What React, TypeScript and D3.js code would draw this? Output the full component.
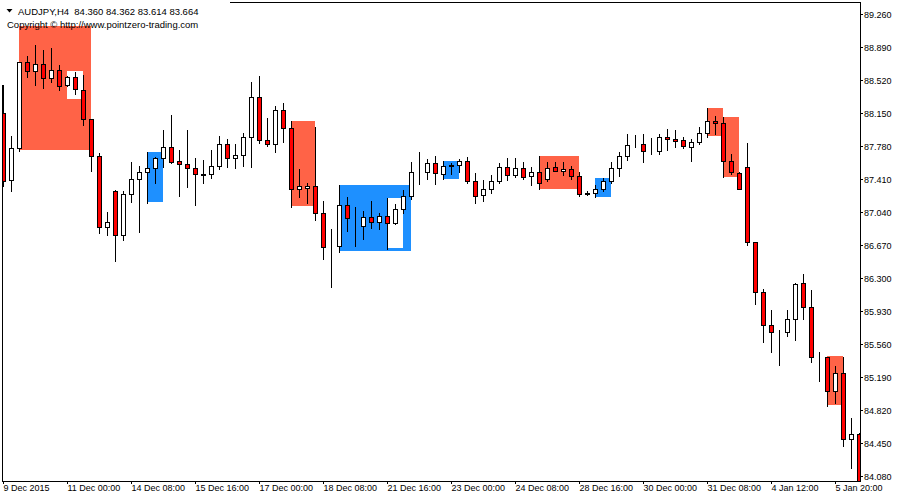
import React from "react";
import * as d3 from "d3";

const opens = [88.149,87.397,87.756,88.721,88.627,88.699,88.541,88.631,88.463,88.559,88.410,88.081,87.666,86.870,87.277,86.780,87.240,87.408,87.487,87.532,87.644,87.767,87.614,87.577,87.532,87.466,87.464,87.554,87.801,87.644,87.678,87.880,88.328,87.846,87.801,88.182,87.980,87.296,87.307,87.330,87.027,86.665,86.663,87.117,86.883,86.881,86.982,86.926,86.993,86.915,87.072,87.218,87.489,87.487,87.588,87.464,87.567,87.565,87.610,87.386,87.229,87.296,87.386,87.543,87.453,87.532,87.442,87.487,87.408,87.543,87.498,87.520,87.442,87.253,87.251,87.296,87.386,87.532,87.670,87.803,87.801,87.728,87.729,87.880,87.857,87.846,87.767,87.823,87.924,88.059,88.037,87.610,87.476,87.543,86.701,86.140,85.770,85.700,85.698,85.837,86.241,85.972,85.417,85.415,85.033,85.232,84.491,84.547];
const highs = [88.466,87.894,88.725,88.792,88.915,88.859,88.878,88.691,88.567,88.616,88.575,88.090,87.700,87.041,87.288,87.277,87.602,87.558,87.711,87.659,87.961,88.130,87.737,87.961,87.644,87.625,87.737,87.894,87.860,87.804,87.924,88.497,88.567,88.093,88.227,88.261,88.062,87.524,87.367,87.992,87.165,86.851,87.344,87.210,87.098,87.053,87.165,87.030,87.198,87.128,87.288,87.602,87.715,87.633,87.666,87.610,87.588,87.636,87.655,87.476,87.397,87.453,87.588,87.644,87.644,87.599,87.543,87.670,87.599,87.599,87.599,87.554,87.490,87.274,87.341,87.420,87.602,87.715,87.917,87.905,87.917,87.872,87.917,87.969,87.958,87.880,87.857,87.992,88.208,88.119,88.107,87.692,87.487,87.816,86.701,86.174,85.938,85.717,85.938,86.241,86.346,86.166,85.471,85.415,85.314,85.415,84.733,84.560];
const lows = [87.333,87.280,87.729,88.559,88.466,88.429,88.503,88.410,88.455,88.362,88.018,87.505,86.809,86.783,86.495,86.724,87.157,86.820,87.146,87.370,87.550,87.588,87.224,87.325,87.120,87.370,87.426,87.520,87.550,87.538,87.558,87.550,87.812,87.785,87.718,87.830,87.101,87.213,87.139,86.952,86.517,86.203,86.596,86.832,86.663,86.742,86.865,86.854,86.630,86.907,87.027,87.184,87.352,87.408,87.352,87.408,87.464,87.487,87.363,87.139,87.161,87.251,87.363,87.397,87.431,87.408,87.341,87.296,87.386,87.498,87.453,87.415,87.218,87.229,87.206,87.274,87.363,87.449,87.628,87.774,87.599,87.689,87.689,87.734,87.774,87.756,87.610,87.808,87.886,87.917,87.431,87.468,87.296,86.675,86.013,85.583,85.471,85.325,85.647,85.609,85.837,85.358,85.149,84.868,84.902,84.416,84.172,83.614];
const closes = [87.393,87.756,88.721,88.627,88.699,88.541,88.631,88.455,88.559,88.418,88.085,87.666,86.870,86.926,86.780,87.240,87.408,87.490,87.532,87.644,87.767,87.606,87.577,87.532,87.464,87.462,87.554,87.801,87.644,87.678,87.880,88.328,87.846,87.801,88.182,87.980,87.296,87.330,87.330,87.027,86.652,86.661,87.117,86.971,86.879,86.982,86.926,86.993,86.915,87.072,87.218,87.487,87.485,87.588,87.476,87.554,87.563,87.610,87.386,87.218,87.296,87.386,87.543,87.453,87.532,87.431,87.487,87.363,87.532,87.498,87.520,87.442,87.240,87.249,87.296,87.386,87.532,87.670,87.793,87.799,87.722,87.724,87.880,87.857,87.835,87.779,87.823,87.924,88.059,88.037,87.610,87.487,87.296,86.701,86.140,85.770,85.698,85.696,85.837,86.234,85.972,85.411,85.413,85.033,85.232,84.491,84.547,83.664];

// supply / demand zones (candle index range and price range)
const zoneStart = [2, 8, 18, 36, 42, 48, 55, 67, 74, 88, 90, 103];
const zoneEnd = [11, 10, 20, 39, 51, 50, 57, 72, 76, 90, 92, 105];
const zoneTop = [89.128, 88.623, 87.711, 88.062, 87.344, 87.198, 87.610, 87.670, 87.420, 88.208, 88.107, 85.422];
const zoneBottom = [87.740, 88.309, 87.157, 87.112, 86.607, 86.641, 87.415, 87.296, 87.213, 87.897, 87.437, 84.876];
const zoneKind = ["supply", "hole", "demand", "supply", "demand", "hole", "demand", "supply", "demand", "supply", "supply", "supply"];

const priceTicks = [89.26, 88.89, 88.52, 88.15, 87.78, 87.41, 87.04, 86.67, 86.3, 85.93, 85.56, 85.19, 84.82, 84.45, 84.08];
const dateTickIndex = [0, 8, 16, 24, 32, 40, 48, 56, 64, 72, 80, 88, 96, 104];
const dateLabels = ["9 Dec 2015", "11 Dec 00:00", "14 Dec 08:00", "15 Dec 16:00", "17 Dec 00:00", "18 Dec 08:00", "21 Dec 16:00", "23 Dec 00:00", "24 Dec 08:00", "28 Dec 16:00", "30 Dec 00:00", "31 Dec 08:00", "4 Jan 12:00", "5 Jan 20:00"];

const headerText = "AUDJPY,H4  84.360 84.362 83.614 83.664";
const copyrightText = "Copyright \u00A9 http://www.pointzero-trading.com";

const zoneColors: Record<string, string> = { supply: "#FF6347", demand: "#1E90FF", hole: "#FFFFFF" };

export default function App() {
  const W = 900, H = 500;
  const plotRight = 860, plotBottom = 481;
  const x = d3.scaleLinear().domain([0, opens.length - 1]).range([3, 3 + 8 * (opens.length - 1)]);
  const y = d3.scaleLinear().domain([84.0234, 89.42]).range([481, 0]);
  const py = (p: number) => Math.round(y(p));
  const font = "'Liberation Sans', Arial, sans-serif";

  return (
    <svg width={W} height={H} style={{ position: "absolute", left: 0, top: 0, background: "#fff" }} shapeRendering="crispEdges">
      <defs>
        <clipPath id="plot">
          <rect x={3} y={3} width={plotRight - 3} height={plotBottom - 3} />
        </clipPath>
      </defs>
      <rect x={0} y={0} width={W} height={H} fill="#fff" />
      <g clipPath="url(#plot)">
        {zoneStart.map((s, k) => {
          const x1 = x(s), x2 = x(zoneEnd[k]);
          const y1 = py(zoneTop[k]), y2 = py(zoneBottom[k]);
          return <rect key={"z" + k} x={x1} y={y1} width={x2 - x1} height={y2 - y1} fill={zoneColors[zoneKind[k]]} />;
        })}
        {opens.map((o, i) => {
          const c = closes[i];
          const cx = x(i);
          const top = py(Math.max(o, c));
          const bot = py(Math.min(o, c));
          const bull = c > o;
          return (
            <g key={"c" + i}>
              <line x1={cx + 0.5} x2={cx + 0.5} y1={py(highs[i])} y2={py(lows[i]) + 1} stroke="#000" strokeWidth={1} />
              <rect x={cx - 1.5} y={top + 0.5} width={4} height={bot - top} fill={bull ? "#fff" : "#ff0000"} stroke="#000" strokeWidth={1} />
            </g>
          );
        })}
      </g>
      {/* frame */}
      <line x1={2.5} x2={2.5} y1={85} y2={plotBottom + 1} stroke="#000" />
      <line x1={230} x2={plotRight + 1} y1={2.5} y2={2.5} stroke="#000" />
      <line x1={plotRight + 0.5} x2={plotRight + 0.5} y1={2} y2={plotBottom + 1} stroke="#000" />
      <line x1={2} x2={plotRight + 1} y1={plotBottom + 0.5} y2={plotBottom + 0.5} stroke="#000" />
      {/* price axis */}
      {priceTicks.map((p, k) => (
        <g key={"p" + k}>
          <line x1={plotRight} x2={plotRight + 3} y1={py(p) + 0.5} y2={py(p) + 0.5} stroke="#000" />
          <text x={864} y={py(p) + 3.5} fontFamily={font} fontSize={9} fill="#000">{p.toFixed(3)}</text>
        </g>
      ))}
      {/* time axis */}
      {dateTickIndex.map((idx, k) => (
        <g key={"d" + k}>
          <line x1={x(idx) + 0.5} x2={x(idx) + 0.5} y1={plotBottom} y2={plotBottom + 3} stroke="#000" />
          <text x={x(idx) + 0.5} y={491} fontFamily={font} fontSize={9} fill="#000">{dateLabels[k]}</text>
        </g>
      ))}
      {/* header */}
      <path d="M6.5,9 L12.5,9 L9.5,12.5 Z" fill="#000" shapeRendering="auto" />
      <text x={18} y={14.5} fontFamily={font} fontSize={9.5} fill="#000" style={{ whiteSpace: "pre" }}>{headerText}</text>
      <text x={7} y={27.5} fontFamily={font} fontSize={9.5} fill="#000">{copyrightText}</text>
    </svg>
  );
}
